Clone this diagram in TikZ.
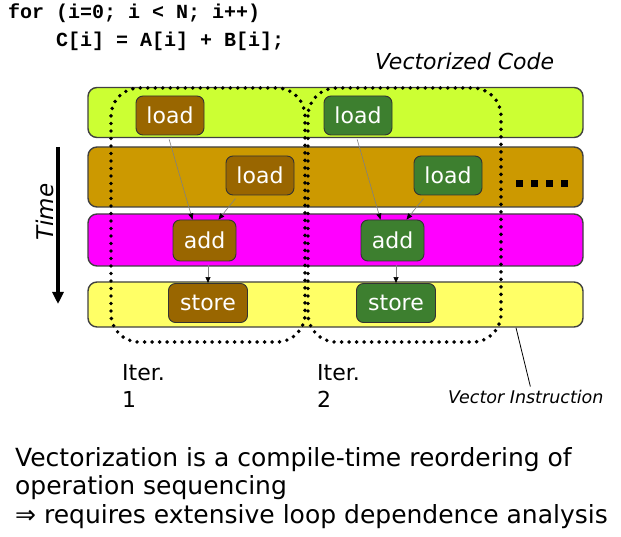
\documentclass[tikz,border=0pt]{standalone}
\usepackage{fontspec}
\setmainfont{DejaVu Sans}
\setmonofont{Liberation Mono}
\usepackage{tikz}
\usetikzlibrary{arrows.meta, calc}

\definecolor{limefill}{HTML}{CCFF33}
\definecolor{ochrefill}{HTML}{CC9900}
\definecolor{pinkfill}{HTML}{FF00FF}
\definecolor{paleyellow}{HTML}{FFFF66}
\definecolor{brownop}{HTML}{996600}
\definecolor{greenop}{HTML}{3D7F2F}
\definecolor{rowedge}{HTML}{404040}

\begin{document}
\begin{tikzpicture}[x = 1pt, y = -1pt,
  row/.style = {draw = rowedge, line width = 1.4pt, rounded corners = 9pt, minimum width = 495pt, inner sep = 0pt},
  op/.style = {draw = black!80, line width = 0.9pt, rounded corners = 7pt, text = white, minimum height = 39pt, inner sep = 0pt, font = \fontsize{22}{26}\selectfont},
  flow/.style = {draw = gray, line width = 0.6pt, shorten <= 4pt, -{Triangle[black, length = 6pt, width = 5pt]}},
  iter/.style = {black, line width = 3.9pt, line cap = round, dash pattern = on 0pt off 7.5pt, rounded corners = 28pt},
  label/.style = {anchor = base west, inner sep = 0pt, align = left}]
\useasboundingbox (0, 0) rectangle (621, 537);
\node[label, font = \ttfamily\bfseries\fontsize{20}{28}\selectfont] at (8, 19) (code1) {for (i=0; i < N; i++)};
\node[label, font = \ttfamily\bfseries\fontsize{20}{28}\selectfont] at (56, 47) (code2) {C[i] = A[i] + B[i];};
\node[label, font = \itshape\fontsize{22}{26}\selectfont] at (375, 70) (vcode) {Vectorized Code};
\node[row, fill = limefill, minimum height = 50pt] at (335.5, 112.5) (rowa) {};
\node[row, fill = ochrefill, minimum height = 60pt] at (335.5, 177) (rowb) {};
\node[row, fill = pinkfill, minimum height = 52pt] at (335.5, 240) (rowc) {};
\node[row, fill = paleyellow, minimum height = 45pt] at (335.5, 304.5) (rowd) {};
\draw[iter] (111, 88) rectangle (305, 342);
\draw[iter] (308, 88) rectangle (501, 342);
\foreach \k/\c/\dx in {1/brownop/0, 2/greenop/188}{
\node[op, fill = \c, minimum width = 68pt] at (170 + \dx, 115.5) (ld\k1) {load};
\node[op, fill = \c, minimum width = 68pt] at (260 + \dx, 175.5) (ld\k2) {load};
\node[op, fill = \c, minimum width = 63pt, minimum height = 41pt] at (204.5 + \dx, 240.5) (ad\k) {add};
\node[op, fill = \c, minimum width = 79pt] at (208 + \dx, 303) (st\k) {store};
\draw[flow] ([xshift = -2pt]ld\k1.south) -- ([xshift = -12pt]ad\k.north);
\draw[flow] ([xshift = -22pt]ld\k2.south) -- ([xshift = 14pt]ad\k.north);
\draw[flow] (st\k.north |- ad\k.south) -- (st\k.north);}
\foreach \x in {519.5, 534.5, 549.5, 564.5}{\fill (\x - 3.5, 180.5) rectangle (\x + 3.5, 187.5);}
\coordinate (tstart) at (58, 147);
\coordinate (tend) at (58, 304);
\draw[line width = 3.5pt, -{Triangle[length = 12pt, width = 11pt]}] (tstart) -- (tend);
\node[rotate = 90, font = \itshape\fontsize{23}{27}\selectfont] at (45, 212) (time) {Time};
\node[label, font = \fontsize{22}{27}\selectfont] at (122, 407) (iter1) {Iter.\\1};
\node[label, font = \fontsize{22}{27}\selectfont] at (317, 407) (iter2) {Iter.\\2};
\node[label, font = \itshape\fontsize{17.5}{21}\selectfont] at (448, 403) (vinstr) {Vector Instruction};
\draw[line width = 0.8pt] ([xshift = 180.5pt]rowd.south) -- ([xshift = 4.5pt, yshift = 3pt]vinstr.north);
\node[label, font = \fontsize{25}{28.5}\selectfont] at (15, 523) (summary) {Vectorization is a compile-time reordering of\\operation sequencing\\⇒ requires extensive loop dependence analysis};
\end{tikzpicture}
\end{document}
